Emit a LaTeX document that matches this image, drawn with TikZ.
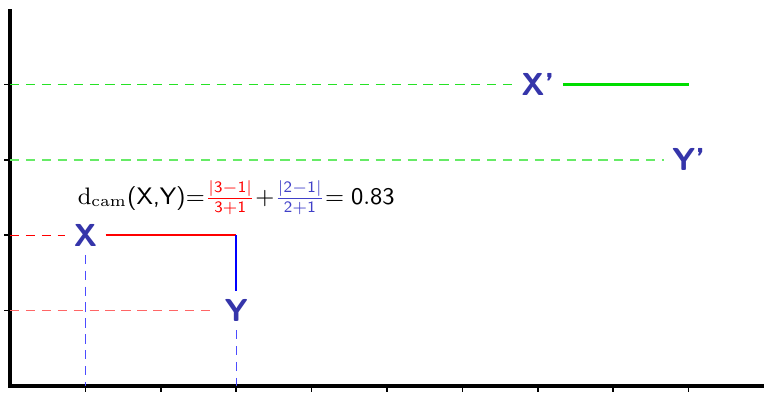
\documentclass[tikz,border=0pt]{standalone}
\usepackage{xcolor}
\usepackage{tikz}
\definecolor{lbl}{HTML}{3535AA}
\definecolor{grn}{HTML}{00DD00}
\definecolor{fracblue}{HTML}{4040C8}

\tikzset{
  lbl/.style={font=\sffamily\bfseries\large, text=lbl, inner sep=3pt},
  guide/.style={dash pattern=on 3.5pt off 2.5pt, line width=0.5pt},
  seg/.style={line width=0.8pt},
  axis/.style={line width=1.2pt},
  tick/.style={line width=0.6pt},
}

\begin{document}
\begin{tikzpicture}
  \useasboundingbox (-0.133,-0.08) rectangle (10,5.12);
  % axes
  \draw[axis] (0,5) -- (0,0) -- (10,0);
  \foreach \i in {1,...,9} \draw[tick] (\i,0) -- (\i,-0.08);
  \foreach \j in {1,...,4} \draw[tick] (0,\j) -- (-0.08,\j);
  \foreach \j in {1,...,4} \coordinate (ay\j) at (0,\j);
  \foreach \i in {1,3} \coordinate (ax\i) at (\i,0);
  \coordinate (corner) at (3,2);
  \coordinate (xpend) at (9,4);

  % points
  \node[lbl] (X) at (1,2) {X};
  \node[lbl] (Y) at (3,1) {Y};
  \node[lbl] (Xp) at (7,4) {X'};
  \node[lbl] (Yp) at (9,3) {Y'};

  % guides
  \draw[guide, red] (ay2) -- (X);
  \draw[guide, red!60] (ay1) -- (Y);
  \draw[guide, blue!70] (X) -- (ax1);
  \draw[guide, blue!70] (Y) -- (ax3);
  \draw[guide, grn!85] (ay4) -- (Xp);
  \draw[guide, grn!60] (ay3) -- (Yp);

  % distances
  \draw[seg, red] (X) -- (corner);
  \draw[seg, blue] (corner) -- (Y);
  \draw[seg, grn] (Xp) -- (xpend);

  \node[font=\small] (dist) at (3,2.5)
    {$\mathrm{d}_{\mathrm{cam}}$\textsf{(X,Y)}${=}
      \textcolor{red}{\frac{|\mathsf{3}-\mathsf{1}|}{\mathsf{3}+\mathsf{1}}}{+}
      \textcolor{fracblue}{\frac{|\mathsf{2}-\mathsf{1}|}{\mathsf{2}+\mathsf{1}}}{=}\;\mathsf{0.83}$};
\end{tikzpicture}
\end{document}
